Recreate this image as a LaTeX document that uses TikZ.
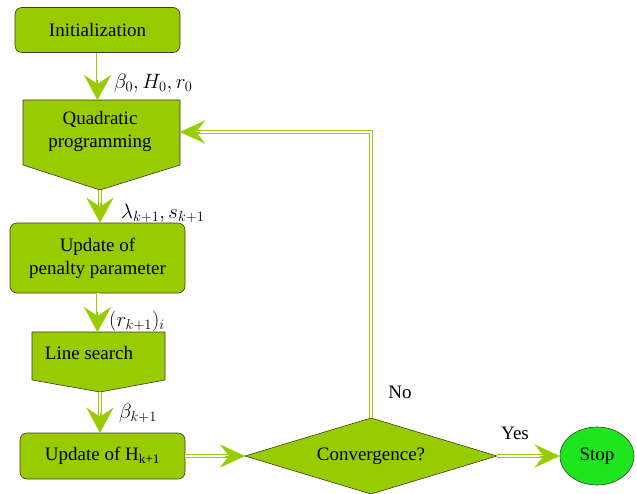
\documentclass[tikz,border=0pt]{standalone}
\usepackage{fontspec}
\setmainfont{Liberation Serif}
\usetikzlibrary{arrows.meta,shapes.geometric}
\definecolor{boxgreen}{RGB}{153,204,0}
\definecolor{stopgreen}{RGB}{30,230,30}
\definecolor{edgegray}{RGB}{60,60,40}
\begin{document}
\begin{tikzpicture}[x=1pt,y=-1pt,font=\fontsize{19}{23}\selectfont,
  roundbox/.style={draw=edgegray,line width=0.6pt,fill=boxgreen,rounded corners=7pt,inner sep=0pt,align=center},
  shapebox/.style={draw=edgegray,line width=0.6pt,fill=boxgreen},
  plain/.style={inner sep=0pt,align=center},
  lbl/.style={inner sep=0pt,anchor=west,font=\fontsize{21}{25}\selectfont},
  shaft/.style={draw=boxgreen,line width=0.7pt,double=white,double distance=2pt,shorten >=14pt},
  vhead/.style={-{Stealth[length=25pt,width=27pt,inset=9pt]},draw=boxgreen,fill=boxgreen,line width=0.1pt},
  hhead/.style={-{Stealth[length=25pt,width=23pt,inset=9pt]},draw=boxgreen,fill=boxgreen,line width=0.1pt}]
\useasboundingbox (0,0) rectangle (637,493);

% Initialization
\node[roundbox,minimum width=165pt,minimum height=45pt] (init) at (97.5,30) {Initialization};

% Quadratic programming (pentagon)
\draw[shapebox] (23,100) -- (180,100) -- (180,165) -- (100,190) -- (23,165) -- cycle;
\node[plain] (qp) at (100,131) {Quadratic\\programming};
\coordinate (qpN) at (97.5,100);
\coordinate (qpS) at (100,190);
\coordinate (qpE) at (180,132);

% Update of penalty parameter
\node[roundbox,minimum width=175pt,minimum height=70pt] (pen) at (97.5,258) {Update of\\penalty parameter};

% Line search (pentagon)
\draw[shapebox] (32,332) -- (165,332) -- (165,380) -- (100,392) -- (32,380) -- cycle;
\node[plain] (ls) at (89,353) {Line search};
\coordinate (lsN) at (97.5,332);
\coordinate (lsS) at (100,392);

% Update of H
\node[roundbox,minimum width=165pt,minimum height=46pt] (upd) at (102.5,456) {Update of H\textsubscript{k+1}};

% Convergence diamond
\draw[shapebox] (245,456) -- (371,418) -- (497,456) -- (371,494) -- cycle;
\node[plain] (conv) at (371,456) {Convergence?};
\coordinate (cW) at (245,456);
\coordinate (cN) at (371,418);
\coordinate (cE) at (497,456);

% Stop
\node[ellipse,draw=edgegray,line width=0.6pt,fill=stopgreen,minimum width=74pt,minimum height=58pt,inner sep=0pt] (stop) at (597,456) {Stop};

% Connectors
\draw[shaft] (init.south) -- (qpN);
\draw[vhead] ([yshift=20pt]qpN) -- (qpN);

\draw[shaft] (qpS) -- (qpS |- pen.north);
\draw[vhead] ([yshift=20pt]qpS |- pen.north) -- (qpS |- pen.north);

\draw[shaft] (pen.south) -- (lsN);
\draw[vhead] ([yshift=20pt]lsN) -- (lsN);

\draw[shaft] (lsS) -- (lsS |- upd.north);
\draw[vhead] ([yshift=20pt]lsS |- upd.north) -- (lsS |- upd.north);

\draw[shaft] (upd.east) -- (cW);
\draw[hhead] ([xshift=-20pt]cW) -- (cW);

\draw[shaft] (cE) -- (stop.west);
\draw[hhead] ([xshift=-20pt]stop.west) -- (stop.west);

\draw[shaft] (cN) |- (qpE);
\draw[hhead] ([xshift=20pt]qpE) -- (qpE);

% Labels
\node[lbl] (l1) at (114,83) {$\beta_0, H_0, r_0$};
\node[lbl] (l2) at (121,213) {$\lambda_{k+1}, s_{k+1}$};
\node[lbl] (l3) at (109,321) {$(r_{k+1})_i$};
\node[lbl] (l4) at (119,413) {$\beta_{k+1}$};
\node[plain] (no) at (400,392) {No};
\node[plain] (yes) at (515,433) {Yes};
\end{tikzpicture}
\end{document}
